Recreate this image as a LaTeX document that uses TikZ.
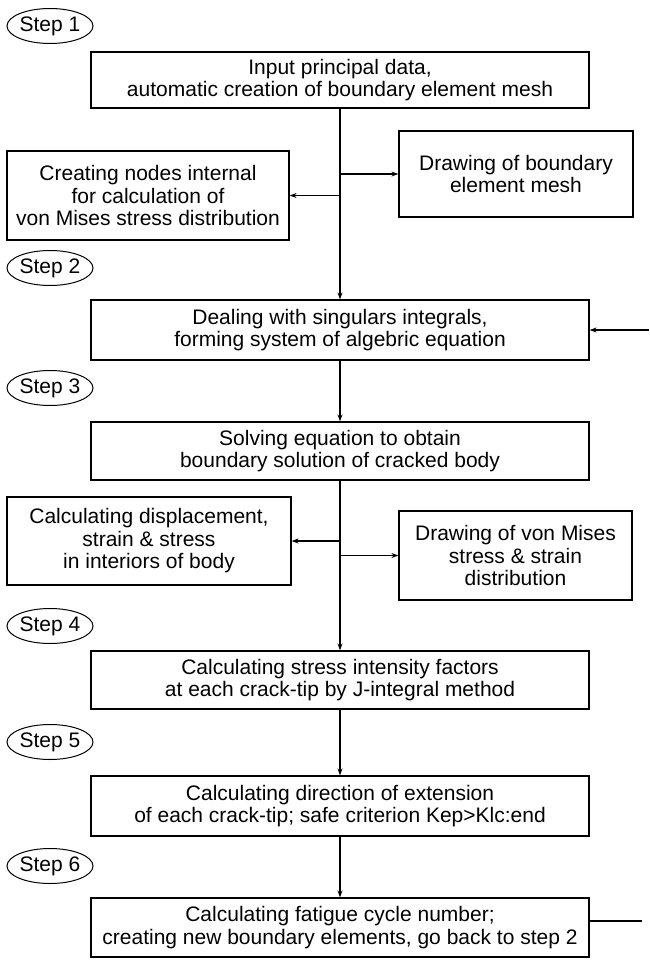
\documentclass[tikz,border=0pt]{standalone}
\usepackage{fontspec}
\setmainfont{Liberation Sans}
\usetikzlibrary{arrows.meta,shapes.geometric}

\begin{document}
\begin{tikzpicture}[x=1pt, y=-1pt, >=Stealth]
  \tikzset{
    stage/.style={rectangle, draw, fill=none, line width=1.2pt,
      minimum width=498pt, minimum height=58pt, inner sep=0pt,
      font=\fontsize{21}{22.5}\selectfont, align=center},
    side/.style={rectangle, draw, fill=none, line width=1.2pt,
      minimum height=89pt, inner sep=0pt,
      font=\fontsize{21}{22.5}\selectfont, align=center},
    steplabel/.style={ellipse, draw, line width=1pt,
      minimum width=86pt, minimum height=35pt, inner sep=0pt,
      font=\fontsize{21}{22.5}\selectfont},
    flow/.style={-{Stealth[length=7pt, width=5pt]}, line width=1.2pt}
  }
  \useasboundingbox (0,0) rectangle (649,960);

  \node[steplabel] (s1) at (50,26) {Step 1};
  \node[steplabel] (s2) at (50,268) {Step 2};
  \node[steplabel] (s3) at (50,388) {Step 3};
  \node[steplabel] (s4) at (50,626) {Step 4};
  \node[steplabel] (s5) at (50,742) {Step 5};
  \node[steplabel] (s6) at (50,866) {Step 6};

  \node[stage, minimum height=56pt] (b1) at (340,80)
    {Input principal data,\\automatic creation of boundary element mesh};
  \node[side, minimum width=282pt] (nodes) at (148,195.5)
    {Creating nodes internal\\for calculation of\\von Mises stress distribution};
  \node[side, minimum width=234pt, minimum height=86pt] (mesh) at (516,174)
    {Drawing of boundary\\element mesh};
  \node[stage, minimum height=60pt] (b2) at (340,330)
    {Dealing with singulars integrals,\\forming system of algebric equation};
  \node[stage] (b3) at (340,451)
    {Solving equation to obtain\\boundary solution of cracked body};
  \node[side, minimum width=284pt, minimum height=88pt] (interior) at (149,541)
    {Calculating displacement,\\strain \& stress\\in interiors of body};
  \node[side, minimum width=233pt] (vonmises) at (515.5,555.5)
    {Drawing of von Mises\\stress \& strain\\distribution};
  \node[stage] (b4) at (340,680)
    {Calculating stress intensity factors\\at each crack-tip by J-integral method};
  \node[stage, minimum height=60pt] (b5) at (340,806)
    {Calculating direction of extension\\of each crack-tip; safe criterion Kep>Klc:end};
  \node[stage, minimum height=59pt] (b6) at (340,927.5)
    {Calculating fatigue cycle number;\\creating new boundary elements, go back to step 2};

  \coordinate (loopin) at (649,330);
  \coordinate (loopout) at (642,921);

  % main flow
  \draw[flow] (b1) -- (b2);
  \draw[flow] (b1.south |- mesh.west) -- (mesh.west);
  \draw[flow] (b1.south |- nodes.east) -- (nodes.east);
  \draw[flow] (loopin) -- (b2.east |- loopin);
  \draw[flow] (b2) -- (b3);
  \draw[flow] (b3) -- (b4);
  \draw[flow] (b3.south |- interior.east) -- (interior.east);
  \draw[flow] (b3.south |- vonmises.west) -- (vonmises.west);
  \draw[flow] (b4) -- (b5);
  \draw[flow] (b5) -- (b6);
  \draw[line width=1.2pt] (b6.east |- loopout) -- (loopout);
\end{tikzpicture}
\end{document}
